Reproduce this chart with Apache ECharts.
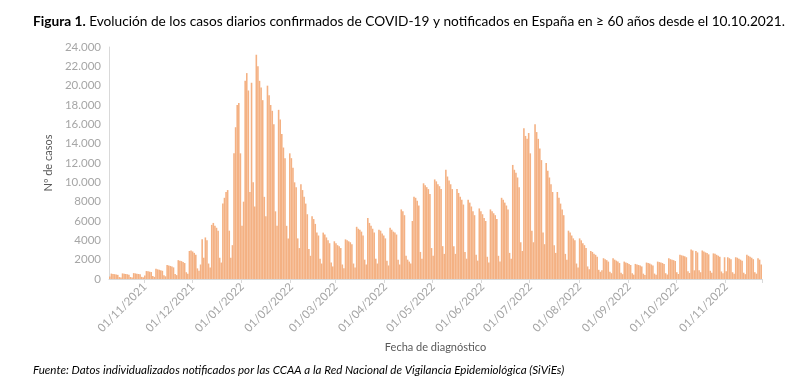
<!DOCTYPE html>
<html><head><meta charset="utf-8">
<script src="https://cdn.jsdelivr.net/npm/echarts@6/dist/echarts.min.js"></script>
<style>html,body{margin:0;padding:0;background:#fff}#c{width:800px;height:391px}</style>
</head><body><div id="c"></div>
<script>
// Daily dates start on 10/10/2021 (Sunday), Mon..Sun per row
const startDate = [2021, 10, 10];
const casos = [
  250,
  560, 520, 500, 470, 430, 200, 150,
  580, 540, 520, 490, 450, 210, 160,
  610, 580, 550, 520, 480, 220, 170,
  350, 820, 800, 760, 720, 300, 220,
  1050, 1000, 950, 900, 850, 380, 280,
  1450, 1400, 1350, 1300, 1200, 520, 400,
  1950, 1900, 1850, 1750, 1650, 700, 550,
  2900, 2950, 2850, 2700, 2500, 1100, 850,
  1500, 4100, 2200, 4300, 4000, 1600, 1200,
  5600, 5800, 5500, 5300, 5000, 2200, 1700,
  7800, 8400, 9000, 9200, 5000, 2200, 3500,
  13000, 15700, 18000, 18200, 13000, 5500, 8000,
  20500, 21300, 19500, 9000, 20300, 10000, 7500,
  23200, 22000, 20500, 19800, 18500, 8500, 6500,
  20000, 19000, 18000, 17400, 16000, 7000, 5500,
  17500, 16500, 15000, 13600, 12500, 5500, 4200,
  13000, 12500, 11500, 10000, 9500, 4200, 3200,
  9800, 9200, 8500, 7800, 6700, 3100, 2400,
  6500, 6200, 5700, 4800, 4500, 2100, 1600,
  4800, 4600, 4300, 4000, 3700, 1700, 1300,
  3900, 3700, 3500, 3400, 3200, 1500, 1100,
  4100, 4000, 3900, 3800, 3600, 1600, 1200,
  5400, 5200, 5100, 4900, 4500, 2000, 1500,
  6300, 5800, 5500, 5200, 4800, 2100, 1600,
  5100, 5000, 4700, 4500, 4200, 1900, 1400,
  5300, 5100, 4900, 4800, 4600, 2000, 1500,
  7200, 7000, 6600, 2400, 2000, 1800, 1600,
  6000, 8500, 8400, 8100, 7600, 2800, 2100,
  9900, 9700, 9500, 9300, 8800, 3200, 2400,
  10300, 10100, 9800, 9600, 9300, 3400, 2600,
  11300, 10600, 10200, 9800, 9300, 3400, 2600,
  9300, 8900, 8500, 8200, 7700, 2800, 2100,
  8200, 7900, 7500, 7000, 6600, 2500, 1900,
  7300, 7000, 6700, 6300, 6000, 2300, 1700,
  7200, 7000, 6800, 6600, 6200, 2400, 1800,
  8400, 8200, 7900, 7600, 7200, 2700, 2100,
  11800, 11300, 11000, 10500, 9500, 3800, 2900,
  15600, 14800, 14500, 15100, 13000, 5000, 3800,
  16000, 15200, 14500, 13500, 12300, 4800, 3600,
  12000, 11200, 10500, 9800, 9000, 3500, 2700,
  9000, 8400, 7800, 7200, 6600, 2600, 2000,
  5000, 4800, 4500, 4200, 4000, 1600, 1200,
  4200, 4000, 3700, 3500, 3200, 1300, 1000,
  2900, 2800, 2600, 2500, 2300, 950, 750,
  900, 2150, 2050, 1950, 1800, 750, 600,
  2150, 2000, 1900, 1800, 1650, 650, 500,
  1800, 1700, 1650, 1550, 1450, 600, 450,
  1560, 1500, 1450, 1400, 1300, 550, 420,
  1700, 1650, 1600, 1500, 1400, 560, 430,
  1800, 1750, 1700, 1650, 1550, 600, 460,
  2150, 2050, 2000, 1950, 1850, 700, 520,
  2500, 2450, 2400, 2350, 2250, 800, 620,
  3050, 2950, 900, 2900, 2750, 900, 700,
  2950, 2850, 2750, 2700, 2550, 850, 650,
  2650, 2600, 2500, 2400, 2300, 780, 600,
  2250, 800, 2250, 2150, 2050, 700, 550,
  2250, 2200, 2100, 2000, 1900, 650, 500,
  2500, 2400, 2300, 2200, 2050, 700, 550,
  2150, 2000, 1500
];
const yTicks = [0, 2000, 4000, 6000, 8000, 10000, 12000, 14000, 16000, 18000, 20000, 22000, 24000];
const titleBold = 'Figura 1.';
const titleText = ' Evolución de los casos diarios confirmados de COVID-19 y notificados en España en ≥ 60 años desde el 10.10.2021.';
const footer = 'Fuente: Datos individualizados notificados por las CCAA a la Red Nacional de Vigilancia Epidemiológica (SiViEs)';
const yName = 'Nº de casos';
const xName = 'Fecha de diagnóstico';

const pad = n => (n < 10 ? '0' : '') + n;
const fechas = [];
{
  const d = new Date(startDate[0], startDate[1] - 1, startDate[2], 12);
  for (let i = 0; i < casos.length; i++) {
    fechas.push(pad(d.getDate()) + '/' + pad(d.getMonth() + 1) + '/' + d.getFullYear());
    d.setDate(d.getDate() + 1);
  }
}
const isMonthStart = (i, v) => v.slice(0, 3) === '01/';
const fmtY = v => v >= 10000 ? (Math.floor(v / 1000) + '.' + String(v % 1000).padStart(3, '0')) : String(v);

const chart = echarts.init(document.getElementById('c'), null, {renderer: 'canvas'});
chart.setOption({
  animation: false,
  backgroundColor: '#fff',
  textStyle: {fontFamily: 'Lato'},
  title: {
    left: 33, top: 15, padding: 0,
    text: '{b|' + titleBold + '}{n|' + titleText + '}',
    textStyle: {
      rich: {
        b: {fontFamily: 'Lato', fontWeight: 'bold', fontSize: 13.7, color: '#000'},
        n: {fontFamily: 'Lato', fontWeight: 'normal', fontSize: 13.7, color: '#000'}
      }
    }
  },
  graphic: [{
    type: 'text', left: 33, top: 364,
    style: {text: footer, font: 'italic 11.6px Lato', fill: '#000'}
  }],
  grid: {left: 109, right: 38, top: 47, bottom: 112},
  xAxis: {
    type: 'category',
    data: fechas,
    boundaryGap: true,
    name: xName,
    nameLocation: 'middle',
    nameGap: 63,
    nameTextStyle: {color: '#595959', fontSize: 11, fontFamily: 'Lato'},
    axisLine: {show: true, lineStyle: {color: '#d9d9d9'}},
    axisTick: {show: true, interval: isMonthStart, length: 4, lineStyle: {color: '#d9d9d9'}},
    axisLabel: {interval: isMonthStart, rotate: 45, color: '#a6a6a6', fontSize: 11.5, margin: 6, fontFamily: 'Lato'},
    splitLine: {show: false}
  },
  yAxis: {
    type: 'value',
    min: yTicks[0], max: yTicks[yTicks.length - 1], interval: yTicks[1] - yTicks[0],
    name: yName,
    nameLocation: 'middle',
    nameGap: 52,
    nameRotate: 90,
    nameTextStyle: {color: '#595959', fontSize: 11, fontFamily: 'Lato'},
    axisLine: {show: true, lineStyle: {color: '#d9d9d9'}},
    axisTick: {show: false},
    axisLabel: {color: '#a6a6a6', fontSize: 11.5, margin: 8, formatter: fmtY, fontFamily: 'Lato'},
    splitLine: {show: false}
  },
  series: [{
    type: 'bar',
    data: casos,
    barCategoryGap: '0%',
    itemStyle: {color: '#F4B183'},
    silent: true
  }]
});
</script></body></html>
